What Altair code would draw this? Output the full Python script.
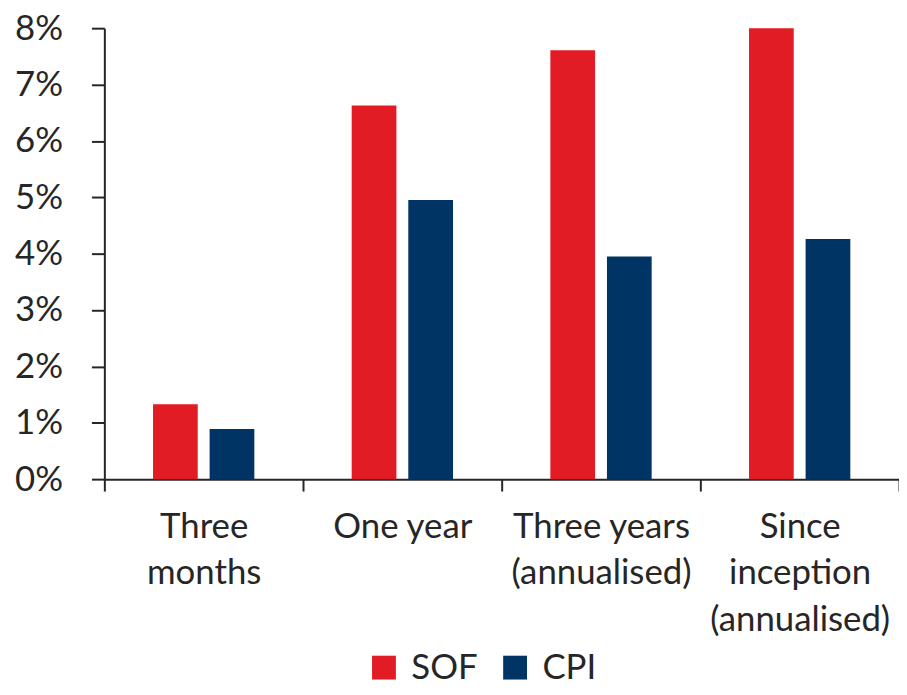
import altair as alt
import pandas as pd

categories = ["Three|months", "One year", "Three years|(annualised)", "Since|inception|(annualised)"]
series = ["SOF", "CPI"]
sof_values = [1.33, 6.63, 7.61, 8.0]
cpi_values = [0.89, 4.95, 3.95, 4.26]
colors = ["#E21C24", "#003464"]
y_ticks = [0, 0.01, 0.02, 0.03, 0.04, 0.05, 0.06, 0.07, 0.08]

rows = []
for i, c in enumerate(categories):
    rows.append({"period": c, "series": "SOF", "value": sof_values[i] / 100})
    rows.append({"period": c, "series": "CPI", "value": cpi_values[i] / 100})
df = pd.DataFrame(rows)

FONT = "Lato"
FS = 35
TXT = "#262626"

chart = alt.Chart(df).mark_bar().encode(
    x=alt.X("period:N", sort=categories, title=None,
            scale=alt.Scale(paddingInner=0, paddingOuter=0),
            axis=alt.Axis(labelExpr="split(datum.label, '|')", labelAngle=0,
                          tickBand="extent", tickSize=12, labelPadding=19,
                          labelFontSize=FS, labelLineHeight=46.5, labelFont=FONT,
                          labelColor=TXT, domainColor=TXT, tickColor=TXT,
                          domainWidth=2, tickWidth=2, labelBaseline="top",
                          labelOverlap=False, labelBound=False, labelLimit=400)),
    xOffset=alt.XOffset("series:N", sort=series,
                        scale=alt.Scale(paddingInner=0.21, paddingOuter=0.86)),
    y=alt.Y("value:Q", title=None,
            scale=alt.Scale(domain=[0, 0.08], nice=False),
            axis=alt.Axis(format=".0%", values=y_ticks,
                          grid=False, tickSize=13, labelPadding=29,
                          labelFontSize=FS, labelFont=FONT, labelColor=TXT,
                          domainColor=TXT, tickColor=TXT, domainWidth=2, tickWidth=2,
                          labelOverlap=False, labelFlush=False)),
    color=alt.Color("series:N", sort=series,
                    scale=alt.Scale(domain=series, range=colors),
                    legend=alt.Legend(title=None, orient="none", direction="horizontal",
                                      legendX=264, legendY=626,
                                      symbolType="square", symbolSize=576,
                                      symbolStrokeWidth=0, labelFontSize=FS,
                                      labelFont=FONT, labelColor=TXT,
                                      labelOffset=10, columnPadding=20)),
).properties(
    width=800, height=454,
    autosize=alt.AutoSizeParams(type="none"),
    padding={"left": 97, "top": 18, "right": 0, "bottom": 215},
).configure_view(stroke=None)

chart.save("out.html", embed_options={"renderer": "svg", "actions": False})
